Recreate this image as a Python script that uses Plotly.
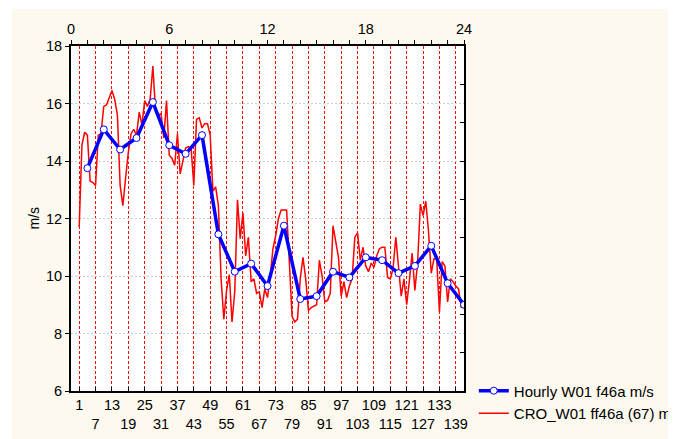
import plotly.graph_objects as go

# ---- data ----
hours = list(range(1, 25))
hourly_w01 = [13.75, 15.1, 14.4, 14.8, 16.05, 14.55, 14.25, 14.9, 11.45, 10.15,
              10.43, 9.65, 11.75, 9.2, 9.3, 10.15, 9.95, 10.65, 10.55, 10.1,
              10.35, 11.05, 9.75, 9.0]

samples = list(range(1, 143))
cro_w01 = [11.7, 14.55, 15.0, 14.9, 13.3, 13.25, 13.15, 14.9, 14.95, 15.9,
           15.95, 16.2, 16.45, 16.15, 15.6, 13.15, 12.45, 13.4, 14.3, 14.95,
           15.1, 14.9, 15.7, 15.25, 16.1, 15.9, 16.15, 17.3, 15.7, 15.6,
           15.65, 14.8, 16.1, 14.2, 14.1, 13.85, 14.95, 13.55, 13.95, 14.45,
           14.5, 14.45, 13.15, 15.45, 15.5, 15.15, 15.3, 15.3, 14.9, 12.95,
           13.1, 12.45, 9.9, 8.5, 9.5, 10.05, 8.4, 9.45, 12.65, 11.3,
           12.2, 10.7, 11.35, 9.8, 9.9, 9.4, 9.45, 8.9, 9.55, 9.25,
           10.0, 10.95, 11.4, 12.0, 12.3, 12.3, 12.3, 10.5, 8.6, 8.4,
           8.5, 9.9, 10.65, 9.9, 8.8, 8.9, 8.95, 9.0, 10.55, 10.0,
           9.1, 9.15, 9.4, 11.75, 11.2, 10.65, 9.3, 9.8, 9.25, 9.65,
           9.9, 11.35, 11.5, 10.55, 11.0, 10.35, 10.15, 10.45, 10.3, 10.7,
           10.95, 11.0, 11.0, 9.95, 9.9, 10.25, 11.35, 10.3, 9.3, 9.9,
           9.0, 9.85, 10.8, 9.5, 10.45, 12.5, 12.1, 12.6, 11.55, 10.1,
           10.6, 10.6, 8.75, 10.5, 10.35, 9.1, 9.9, 9.8, 9.65, 9.55,
           8.9, 9.05]

bottom_ticks = list(range(1, 140, 6))
bottom_labels = [str(v) if i % 2 == 0 else "<br>" + str(v) for i, v in enumerate(bottom_ticks)]
top_ticks = list(range(0, 25))
top_labels = [str(v) if v % 6 == 0 else "" for v in top_ticks]
y_ticks = [6, 8, 10, 12, 14, 16, 18]

FONT = "Arial, Liberation Sans, sans-serif"
CREAM = "#FDF9EE"

# plot area in figure pixels
L, T, PW, PH = 63, 38, 393.5, 345
W, H = 676, 439

fig = go.Figure()

fig.add_trace(go.Scatter(
    x=hours, y=hourly_w01, xaxis="x2", yaxis="y",
    mode="lines+markers", name="Hourly W01 f46a m/s",
    line=dict(color="#0000FF", width=3.5),
    marker=dict(symbol="circle", size=7, color="white",
                line=dict(color="#0000FF", width=1)),
))
fig.add_trace(go.Scatter(
    x=samples, y=cro_w01, xaxis="x", yaxis="y",
    mode="lines", name="CRO_W01 ff46a (67) m/s",
    line=dict(color="#FF0000", width=1.5),
))
fig.add_trace(go.Scatter(x=[None], y=[None], xaxis="x", yaxis="y2",
                         showlegend=False, hoverinfo="skip"))

def px_x(p):
    return (p - L) / PW

def px_y(p):
    return (T + PH - p) / PH

fig.update_layout(
    width=W, height=H,
    margin=dict(l=L, r=W - L - PW, t=T, b=H - T - PH, autoexpand=False),
    paper_bgcolor=CREAM, plot_bgcolor="white",
    font=dict(family=FONT, size=14.5, color="black"),
    showlegend=True,
    legend=dict(x=1.025, y=0.048, xanchor="left", yanchor="top",
                bgcolor="rgba(0,0,0,0)", font=dict(size=15),
                tracegroupgap=0, itemwidth=30),
    xaxis=dict(range=[-2, 142], tickmode="array", tickvals=bottom_ticks,
               ticktext=bottom_labels, tickangle=0, ticks="inside", ticklen=4,
               tickcolor="black", showline=True, linecolor="black", linewidth=2,
               showgrid=True, gridcolor="#FF0000", gridwidth=1, griddash="3px,2px",
               zeroline=False, automargin=False),
    xaxis2=dict(range=[0, 24], overlaying="x", side="top", tickmode="array",
                tickvals=top_ticks, ticktext=top_labels, tickangle=0,
                ticks="outside", ticklen=4, tickcolor="black", showline=True,
                linecolor="black", linewidth=2, showgrid=False, zeroline=False,
                automargin=False),
    yaxis=dict(range=[6, 18], tickmode="array", tickvals=y_ticks,
               ticks="outside", ticklen=4, tickcolor="black", showline=True,
               linecolor="black", linewidth=2, showgrid=True,
               gridcolor="#CCCCCC", gridwidth=1, griddash="2px,2px",
               zeroline=False, automargin=False),
    yaxis2=dict(range=[0, 9], dtick=1, overlaying="y", side="right",
                ticks="inside", ticklen=4, tickcolor="black", showline=True,
                linecolor="black", linewidth=2, showgrid=False,
                showticklabels=False, zeroline=False, automargin=False),
    annotations=[dict(text="m/s", x=px_x(25), y=0.5, xref="paper", yref="paper",
                      textangle=-90, showarrow=False, xanchor="center",
                      yanchor="middle", font=dict(size=14))],
    shapes=[
        dict(type="rect", xref="paper", yref="paper",
             x0=px_x(0), x1=px_x(W), y0=px_y(1), y1=px_y(0),
             line=dict(width=0), fillcolor="white", layer="below"),
        dict(type="rect", xref="paper", yref="paper",
             x0=px_x(0), x1=px_x(4), y0=px_y(H), y1=px_y(0),
             line=dict(width=0), fillcolor="white", layer="below"),
    ],
)

fig.write_html("out.html")
